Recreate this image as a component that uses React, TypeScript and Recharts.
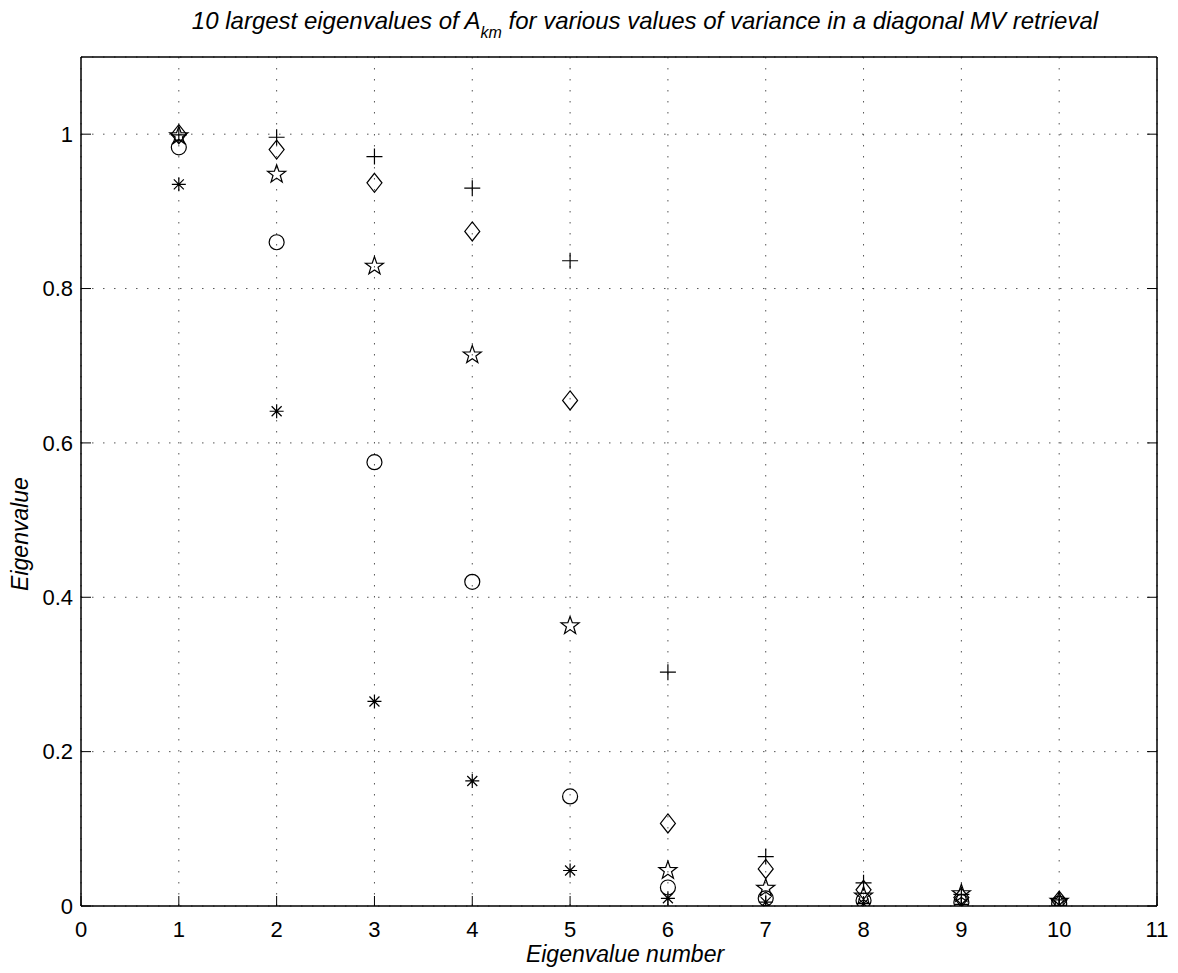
import React from 'react';
import { ScatterChart, Scatter, XAxis, YAxis, CartesianGrid } from 'recharts';

// eigenvalue index on the x axis
const eigNumbers = [1, 2, 3, 4, 5, 6, 7, 8, 9, 10];

// one list per marker style
const plusValues = [0.999, 0.996, 0.971, 0.93, 0.836, 0.303, 0.064, 0.03, 0.015, 0.008];
const diamondValues = [1.0, 0.98, 0.937, 0.874, 0.655, 0.107, 0.048, 0.021, 0.011, 0.007];
const starValues = [0.998, 0.948, 0.829, 0.714, 0.363, 0.046, 0.023, 0.013, 0.016, 0.006];
const circleValues = [0.983, 0.86, 0.575, 0.42, 0.142, 0.024, 0.01, 0.007, 0.005, 0.003];
const asteriskValues = [0.935, 0.641, 0.265, 0.162, 0.046, 0.01, 0.005, 0.003, 0.002, 0.001];

const xTicks = [0, 1, 2, 3, 4, 5, 6, 7, 8, 9, 10, 11];
const yTicks = [0, 0.2, 0.4, 0.6, 0.8, 1];

const FONT = '"Liberation Sans", Arial, Helvetica, sans-serif';
const TICK_MARGIN = 15;
const TICK_LEN = 10;
const TICK_FONT = 22;
const LABEL_FONT = 23;
const INK = '#000';

const toPoints = (vals: number[]) => eigNumbers.map((n, i) => ({ n, v: vals[i] }));

const markStroke = { stroke: INK, strokeWidth: 1.2, fill: 'none' };

const PlusMark = ({ cx, cy }: any) => (
    <path d={`M${cx - 8},${cy}H${cx + 8}M${cx},${cy - 8}V${cy + 8}`} {...markStroke} />
);

const DiamondMark = ({ cx, cy }: any) => (
    <path d={`M${cx},${cy - 9.5}L${cx + 7.5},${cy}L${cx},${cy + 9.5}L${cx - 7.5},${cy}Z`} {...markStroke} />
);

const CircleMark = ({ cx, cy }: any) => <circle cx={cx} cy={cy} r={7.5} {...markStroke} />;

const StarMark = ({ cx, cy }: any) => {
    const pts: string[] = [];
    for (let k = 0; k < 10; k++) {
        const r = k % 2 === 0 ? 9.5 : 3.8;
        const a = -Math.PI / 2 + (k * Math.PI) / 5;
        pts.push(`${cx + r * Math.cos(a)},${cy + r * Math.sin(a)}`);
    }
    return <polygon points={pts.join(' ')} {...markStroke} />;
};

const AsteriskMark = ({ cx, cy }: any) => {
    const d = 7;
    const e = 5;
    return (
        <path
            d={`M${cx - d},${cy}H${cx + d}M${cx},${cy - d}V${cy + d}M${cx - e},${cy - e}L${cx + e},${cy + e}M${cx - e},${cy + e}L${cx + e},${cy - e}`}
            {...markStroke}
        />
    );
};

const fmt = (v: number) => String(v);

const BottomTick = ({ x, y, payload }: any) => {
    const axisY = y - TICK_MARGIN;
    return (
        <g>
            <line x1={x} x2={x} y1={axisY} y2={axisY - TICK_LEN} stroke={INK} />
            <text x={x} y={y} dy="0.71em" textAnchor="middle" fontSize={TICK_FONT} fontFamily={FONT} fill={INK}>
                {fmt(payload.value)}
            </text>
        </g>
    );
};

const LeftTick = ({ x, y, payload }: any) => {
    const axisX = x + TICK_MARGIN;
    return (
        <g>
            <line x1={axisX} x2={axisX + TICK_LEN} y1={y} y2={y} stroke={INK} />
            <text x={axisX - 8} y={y} dy="0.355em" textAnchor="end" fontSize={TICK_FONT} fontFamily={FONT} fill={INK}>
                {fmt(payload.value)}
            </text>
        </g>
    );
};

const TopTick = ({ x, y }: any) => {
    const axisY = y + TICK_MARGIN;
    return <line x1={x} x2={x} y1={axisY} y2={axisY + TICK_LEN} stroke={INK} />;
};

const RightTick = ({ x, y }: any) => {
    const axisX = x - TICK_MARGIN;
    return <line x1={axisX} x2={axisX - TICK_LEN} y1={y} y2={y} stroke={INK} />;
};

const axisLine = { stroke: INK, strokeWidth: 1.5 };

export default function App() {
    return (
        <div style={{ position: 'absolute', left: 0, top: 0, width: 1178, height: 973, background: '#fff' }}>
            <ScatterChart width={1178} height={973} margin={{ top: 56, right: 20, bottom: 7, left: 21 }}>
                <CartesianGrid stroke="#555" strokeDasharray="1.5 9.5" />
                <XAxis
                    dataKey="n"
                    type="number"
                    domain={[0, 11]}
                    ticks={xTicks}
                    interval={0}
                    height={60}
                    tickSize={0}
                    tickMargin={TICK_MARGIN}
                    tickLine={false}
                    axisLine={axisLine}
                    tick={<BottomTick />}
                    allowDataOverflow
                />
                <XAxis
                    xAxisId="top"
                    orientation="top"
                    type="number"
                    domain={[0, 11]}
                    ticks={xTicks}
                    interval={0}
                    height={1}
                    tickSize={0}
                    tickMargin={TICK_MARGIN}
                    tickLine={false}
                    axisLine={axisLine}
                    tick={<TopTick />}
                    allowDataOverflow
                />
                <YAxis
                    dataKey="v"
                    type="number"
                    domain={[0, 1.1]}
                    ticks={yTicks}
                    interval={0}
                    width={60}
                    tickSize={0}
                    tickMargin={TICK_MARGIN}
                    tickLine={false}
                    axisLine={axisLine}
                    tick={<LeftTick />}
                    allowDataOverflow
                />
                <YAxis
                    yAxisId="right"
                    orientation="right"
                    type="number"
                    domain={[0, 1.1]}
                    ticks={yTicks}
                    interval={0}
                    width={1}
                    tickSize={0}
                    tickMargin={TICK_MARGIN}
                    tickLine={false}
                    axisLine={axisLine}
                    tick={<RightTick />}
                    allowDataOverflow
                />
                <Scatter data={toPoints(asteriskValues)} shape={AsteriskMark} isAnimationActive={false} />
                <Scatter data={toPoints(circleValues)} shape={CircleMark} isAnimationActive={false} />
                <Scatter data={toPoints(starValues)} shape={StarMark} isAnimationActive={false} />
                <Scatter data={toPoints(diamondValues)} shape={DiamondMark} isAnimationActive={false} />
                <Scatter data={toPoints(plusValues)} shape={PlusMark} isAnimationActive={false} />
            </ScatterChart>
            <svg
                width={1178}
                height={973}
                style={{ position: 'absolute', left: 0, top: 0, pointerEvents: 'none' }}
            >
                <text x={645} y={29} textAnchor="middle" fontSize={24} fontStyle="italic" fontFamily={FONT} fill={INK}>
                    10 largest eigenvalues of A
                    <tspan dy={9} fontSize={16}>km</tspan>
                    <tspan dy={-9}> for various values of variance in a diagonal MV retrieval</tspan>
                </text>
                <text x={625} y={962} textAnchor="middle" fontSize={LABEL_FONT} fontStyle="italic" fontFamily={FONT} fill={INK}>
                    Eigenvalue number
                </text>
                <text
                    x={28}
                    y={534}
                    textAnchor="middle"
                    transform="rotate(-90, 28, 534)"
                    fontSize={LABEL_FONT}
                    fontStyle="italic"
                    fontFamily={FONT}
                    fill={INK}
                >
                    Eigenvalue
                </text>
            </svg>
        </div>
    );
}
